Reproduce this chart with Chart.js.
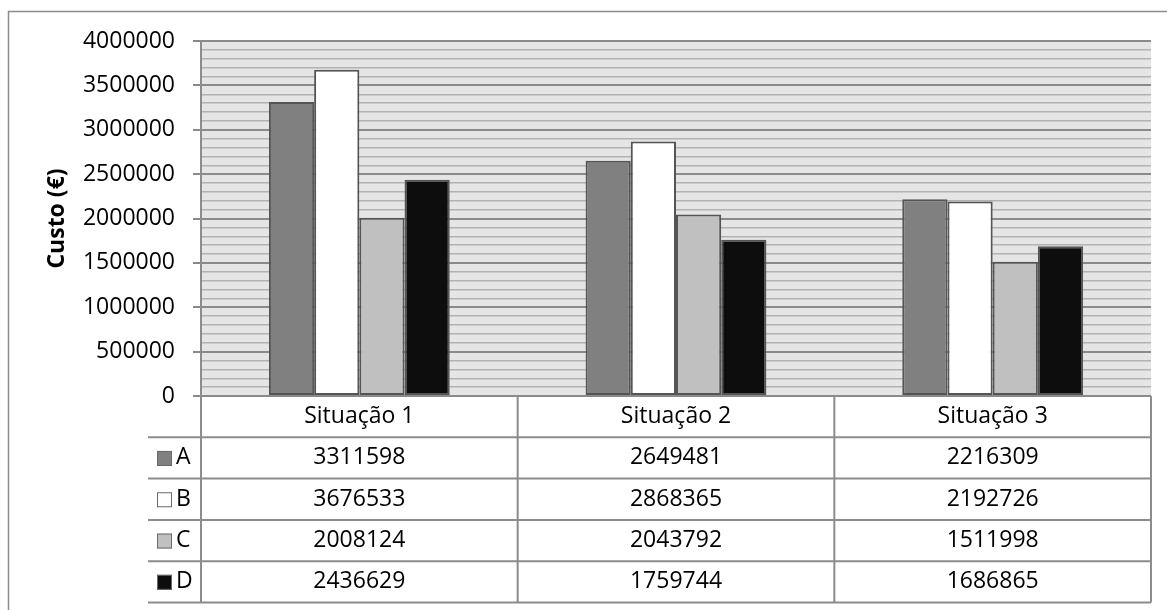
<!DOCTYPE html>
<html>
<head>
<meta charset="utf-8">
<script src="https://cdn.jsdelivr.net/npm/chart.js@4/dist/chart.umd.min.js"></script>
<style>
  html, body { margin: 0; padding: 0; background: #ffffff; }
  #wrap { width: 1167px; height: 610px; position: relative; }
</style>
</head>
<body>
<div id="wrap"><canvas id="chart" width="1167" height="610"></canvas></div>
<script>
// Cost per scenario for each option
const categories = ['Situação 1', 'Situação 2', 'Situação 3'];
const seriesNames = ['A', 'B', 'C', 'D'];
const valuesA = [3311598, 2649481, 2216309];
const valuesB = [3676533, 2868365, 2192726];
const valuesC = [2008124, 2043792, 1511998];
const valuesD = [2436629, 1759744, 1686865];
const yTicksMajor = 500000;
const yTicksMinor = 100000;
const yMax = 4000000;

const fillColors = ['#808080', '#ffffff', '#c0c0c0', '#0d0d0d'];
const seriesValues = [valuesA, valuesB, valuesC, valuesD];
const FONT = '"Open Sans", Lato, sans-serif';
const LINE = '#8c8c8c';

// Light gray plot background and outer frame
const backgroundPlugin = {
  id: 'plotBackground',
  beforeDraw(chart) {
    const { ctx, chartArea: a } = chart;
    ctx.save();
    ctx.fillStyle = '#ffffff';
    ctx.fillRect(0, 0, chart.width, chart.height);
    ctx.strokeStyle = '#8c8c8c';
    ctx.lineWidth = 1.5;
    ctx.strokeRect(8.5, 11.5, chart.width + 20, chart.height + 20);
    ctx.fillStyle = '#e5e5e5';
    ctx.fillRect(a.left, a.top, a.right - a.left, a.bottom - a.top);
    ctx.restore();
  }
};

// Data table under the plot: category header row plus one row per series
const dataTablePlugin = {
  id: 'dataTable',
  afterDraw(chart) {
    const { ctx, chartArea: a } = chart;
    const x = chart.scales.x;
    const n = categories.length;
    const colW = (a.right - a.left) / n;
    const rowH = 41.3;
    const top = a.bottom;
    const rows = seriesNames.length + 1;
    const bottom = top + rowH * rows;
    const legendLeft = 148;

    ctx.save();
    ctx.strokeStyle = LINE;
    ctx.lineWidth = 2;
    ctx.beginPath();
    // vertical separators
    ctx.moveTo(a.left, top); ctx.lineTo(a.left, bottom);
    for (let i = 1; i <= n; i++) {
      const xx = a.left + colW * i;
      ctx.moveTo(xx, top); ctx.lineTo(xx, bottom);
    }
    // horizontal separators
    for (let k = 1; k <= rows; k++) {
      const yy = top + rowH * k;
      ctx.moveTo(legendLeft, yy); ctx.lineTo(a.right, yy);
    }
    ctx.stroke();

    ctx.fillStyle = '#000000';
    ctx.font = '23px ' + FONT;
    ctx.textAlign = 'center';
    ctx.textBaseline = 'middle';
    categories.forEach((c, i) => {
      ctx.fillText(c, x.getPixelForValue(i), top + rowH / 2);
    });

    seriesNames.forEach((name, r) => {
      const cy = top + rowH * (r + 1) + rowH / 2;
      // legend key
      ctx.fillStyle = fillColors[r];
      ctx.fillRect(157, cy - 7, 15, 15);
      ctx.strokeStyle = '#6a6a6a';
      ctx.lineWidth = 1;
      ctx.strokeRect(157.5, cy - 6.5, 14, 14);
      ctx.fillStyle = '#000000';
      ctx.textAlign = 'left';
      ctx.fillText(name, 176, cy);
      ctx.textAlign = 'center';
      seriesValues[r].forEach((v, i) => {
        ctx.fillText(String(v), x.getPixelForValue(i), cy);
      });
    });
    ctx.restore();
  }
};

const isMajor = (v) => v % yTicksMajor === 0;

new Chart(document.getElementById('chart'), {
  type: 'bar',
  data: {
    labels: categories,
    datasets: seriesNames.map((name, i) => ({
      label: name,
      data: seriesValues[i],
      backgroundColor: fillColors[i],
      borderColor: '#555555',
      borderWidth: 2,
      borderSkipped: false,
      categoryPercentage: 0.571,
      barPercentage: 1.0
    }))
  },
  options: {
    responsive: false,
    animation: false,
    devicePixelRatio: 1,
    layout: { padding: { left: 8, top: 41, right: 16, bottom: 214 } },
    plugins: {
      legend: { display: false },
      tooltip: { enabled: false },
      title: { display: false }
    },
    scales: {
      x: { display: false },
      y: {
        min: 0,
        max: yMax,
        afterFit(scale) { scale.width = 193; },
        ticks: {
          stepSize: yTicksMinor,
          autoSkip: false,
          padding: 18,
          color: '#000000',
          font: { family: FONT, size: 23 },
          callback: (v) => isMajor(v) ? String(v) : ''
        },
        grid: {
          color: (c) => isMajor(c.tick.value) ? '#8a8a8a' : '#b2b2b2',
          lineWidth: (c) => isMajor(c.tick.value) ? 2 : 1.5,
          tickColor: (c) => isMajor(c.tick.value) ? '#8a8a8a' : 'rgba(0,0,0,0)',
          tickLength: 8,
          drawTicks: true
        },
        border: { display: true, color: LINE, width: 2 },
        title: {
          display: true,
          text: 'Custo (€)',
          color: '#000000',
          font: { family: FONT, size: 23, weight: 'bold' },
          padding: { top: 36, bottom: 0 }
        }
      }
    }
  },
  plugins: [backgroundPlugin, dataTablePlugin]
});
</script>
</body>
</html>
